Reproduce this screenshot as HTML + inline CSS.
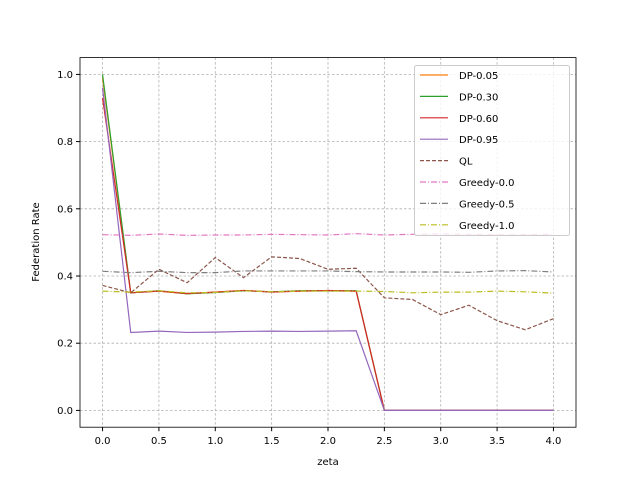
<!DOCTYPE html>
<html><head><meta charset="utf-8"><style>body{margin:0;background:#fff}svg{display:block;font-family:"DejaVu Sans","Liberation Sans",sans-serif}</style></head>
<body>
<svg id="c" width="640" height="480" xmlns="http://www.w3.org/2000/svg"></svg>
<script>
const xs=[0,0.25,0.5,0.75,1,1.25,1.5,1.75,2,2.25,2.5,2.75,3,3.25,3.5,3.75,4];
const dp05=[0.99,0.35,0.355,0.347,0.352,0.357,0.353,0.355,0.356,0.355,0,0,0,0,0,0,0];
const dp30=[1.0,0.35,0.356,0.347,0.351,0.356,0.353,0.356,0.356,0.356,0,0,0,0,0,0,0];
const dp60=[0.93,0.35,0.355,0.348,0.352,0.357,0.352,0.355,0.357,0.355,0,0,0,0,0,0,0];
const dp95=[0.96,0.232,0.236,0.232,0.233,0.235,0.236,0.235,0.236,0.237,0,0,0,0,0,0,0];
const ql=[0.372,0.35,0.42,0.38,0.455,0.395,0.457,0.452,0.42,0.423,0.335,0.33,0.285,0.313,0.267,0.24,0.273];
const g00=[0.523,0.521,0.525,0.521,0.522,0.522,0.524,0.523,0.522,0.526,0.522,0.524,0.525,0.524,0.523,0.523,0.524];
const g05=[0.414,0.41,0.414,0.41,0.41,0.415,0.415,0.415,0.415,0.413,0.412,0.412,0.412,0.411,0.415,0.416,0.412];
const g10=[0.355,0.352,0.356,0.35,0.351,0.356,0.353,0.355,0.355,0.355,0.354,0.35,0.352,0.352,0.355,0.353,0.349];
const xTicks=[0,0.5,1,1.5,2,2.5,3,3.5,4];
const yTicks=[0,0.2,0.4,0.6,0.8,1.0];
const series=[
 {n:"DP-0.05",d:dp05,c:"#ff7f0e",dash:""},
 {n:"DP-0.30",d:dp30,c:"#2ca02c",dash:""},
 {n:"DP-0.60",d:dp60,c:"#d62728",dash:""},
 {n:"DP-0.95",d:dp95,c:"#9467bd",dash:""},
 {n:"QL",d:ql,c:"#8c564b",dash:"4,2"},
 {n:"Greedy-0.0",d:g00,c:"#e377c2",dash:"6,2,1,2"},
 {n:"Greedy-0.5",d:g05,c:"#7f7f7f",dash:"6,2,1,2"},
 {n:"Greedy-1.0",d:g10,c:"#bcbd22",dash:"6,2,1,2"}];
const L=80,R=576,T=57.6,B=427.2;
const X=v=>L+(v+0.2)/4.4*(R-L);
const Y=v=>B-(v+0.05)/1.1*(B-T);
const svg=document.getElementById('c');const NS="http://www.w3.org/2000/svg";
function mk(t,a,p){const e=document.createElementNS(NS,t);for(const k in a)e.setAttribute(k,a[k]);(p||svg).appendChild(e);return e;}
xTicks.forEach(v=>{const l=mk('line',{x1:X(v),x2:X(v),y1:T,y2:B,stroke:'#b0b0b0','stroke-width':0.8,'stroke-dasharray':'2.5,2'});

mk('line',{x1:X(v),x2:X(v),y1:B,y2:B+4,stroke:'#000'});
const t=mk('text',{x:X(v),y:B+17,'text-anchor':'middle','font-size':10});t.textContent=v.toFixed(1);
});
yTicks.forEach(v=>{const l=mk('line',{x1:L,x2:R,y1:Y(v),y2:Y(v),stroke:'#b0b0b0','stroke-width':0.8,'stroke-dasharray':'2.5,2'});

mk('line',{x1:L-4,x2:L,y1:Y(v),y2:Y(v),stroke:'#000'});
const t=mk('text',{x:L-7,y:Y(v)+3.5,'text-anchor':'end','font-size':10});t.textContent=v.toFixed(1);
});
series.forEach(s=>{const p=mk('polyline',{points:s.d.map((v,i)=>X(xs[i])+','+Y(v)).join(' '),fill:'none',stroke:s.c,'stroke-width':1.2,'stroke-dasharray':s.dash});
});
const fr=mk('rect',{x:L,y:T,width:R-L,height:B-T,fill:'none',stroke:'#000','stroke-width':0.8});

const xl=mk('text',{x:(L+R)/2,y:465,'text-anchor':'middle','font-size':10});xl.textContent='zeta';

const yl=mk('text',{x:0,y:0,'text-anchor':'middle','font-size':10,transform:'translate(39,242) rotate(-90)'});yl.textContent='Federation Rate';

const lg=mk('g',{});
mk('rect',{x:414.5,y:65.5,width:155,height:170,rx:2,fill:'#fff','fill-opacity':0.8,stroke:'#ccc'},lg);
series.forEach((s,i)=>{const y=75+i*21.4;
const e=mk('g',{},lg);
mk('line',{x1:420,x2:448,y1:y,y2:y,stroke:s.c,'stroke-width':1.2,'stroke-dasharray':s.dash},e);
const t=mk('text',{x:459,y:y+4,'font-size':10},e);t.textContent=s.n;});
</script>
</body></html>
